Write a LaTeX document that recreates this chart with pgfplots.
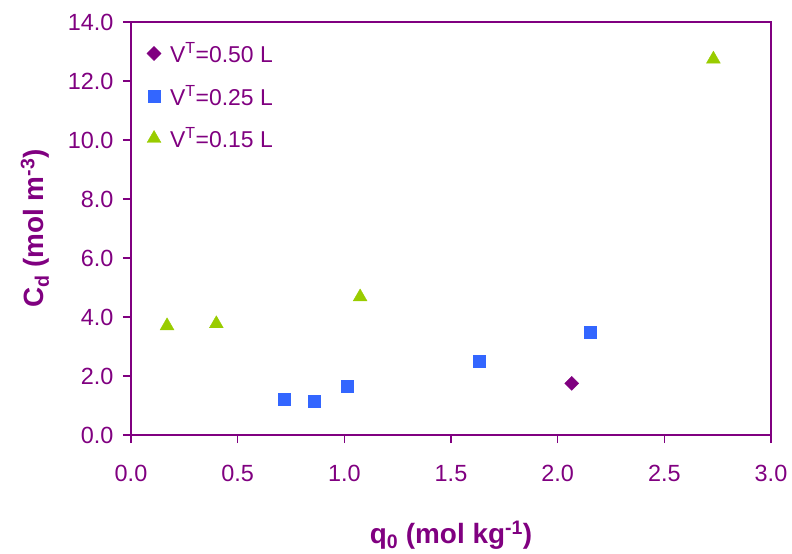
\documentclass[border=0pt]{standalone}
\usepackage{fontspec}
\setmainfont{Liberation Sans}
\usepackage{pgfplots}
\pgfplotsset{compat=1.18}
\definecolor{plum}{HTML}{800080}
\definecolor{sqblue}{HTML}{3366FF}
\definecolor{lime}{HTML}{99CC00}
\begin{document}
\begin{tikzpicture}[x=1bp,y=1bp]
\begin{axis}[
    scale only axis,
    width=640bp, height=413bp,
    xmin=0, xmax=3, ymin=0, ymax=14,
    xtick={0,0.5,...,3}, ytick={0,2,...,14},
    axis line style={plum, line width=1.5pt},
    tick style={plum, line width=1.2pt},
    major tick length=8bp,
    tick align=outside, tick pos=left,
    ticklabel style={font=\fontsize{23.5}{26}\selectfont, text=plum},
    /pgf/number format/assume math mode=true,
    /pgf/number format/.cd, fixed, fixed zerofill, precision=1, /pgfplots/.cd,
    xticklabel style={yshift=-19bp},
    yticklabel style={xshift=-6bp},
    xlabel={\textbf{q\textsubscript{0} (mol kg\textsuperscript{-1})}},
    ylabel={\textbf{C\textsubscript{d} (mol m\textsuperscript{-3})}},
    label style={font=\fontsize{28}{32}\selectfont, text=plum},
    xlabel style={yshift=-32bp},
    ylabel style={yshift=12bp},
    legend style={draw=none, fill=none, at={(0.02,0.96)}, anchor=north west,
        font=\fontsize{23}{26}\selectfont, text=plum, row sep=17bp},
    legend cell align=left,
]
\addplot[only marks, mark=square*, mark size=5bp, mark options={rotate=45}, color=plum]
    coordinates {(2.066,1.75)};
\addplot[only marks, mark=square*, mark size=6bp, color=sqblue]
    coordinates {(0.719,1.23) (0.858,1.16) (1.013,1.65) (1.63,2.49) (2.153,3.49)};
\addplot[only marks, mark=triangle*, mark size=8bp, color=lime]
    coordinates {(0.169,3.70) (0.40,3.77) (1.074,4.68) (2.73,12.74)};
\legend{\hspace{7bp}V\textsuperscript{T}=0.50 L, \hspace{7bp}V\textsuperscript{T}=0.25 L, \hspace{7bp}V\textsuperscript{T}=0.15 L}
\end{axis}
\path (current axis.south west) ++(-131bp,-119bp) coordinate (bl);
\path (current axis.north east) ++(21bp,22bp) coordinate (tr);
\useasboundingbox (bl) rectangle (tr);
\end{tikzpicture}
\end{document}
